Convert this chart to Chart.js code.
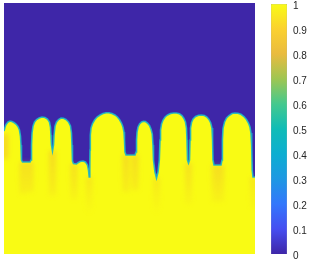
<!DOCTYPE html>
<html>
<head>
<meta charset="utf-8">
<script src="https://cdn.jsdelivr.net/npm/chart.js@4"></script>
<style>
  body { margin: 0; background: #fff; }
  #field { position: absolute; left: 0; top: 0; }
  #cbar { position: absolute; left: 260px; top: 0; }
</style>
</head>
<body>
<canvas id="field" width="260" height="263"></canvas>
<canvas id="cbar" width="60" height="263"></canvas>
<script>
// solid/liquid interface (grid units, 0..251 both ways)
const profileX = [0, 1, 2, 4, 6, 8, 10, 12, 14, 15.5, 16.5, 17, 17.5, 18.5, 26, 27, 27.5, 28,
  29, 30.5, 32.5, 35, 38, 41, 43.5, 45.5, 46.5, 47, 47.5, 48.5, 49.5, 50,
  51, 52.5, 54.5, 57, 59.5, 62, 64.5, 66.5, 67.5, 68, 68.5, 69.5, 72.5,
  73.5, 76, 79, 81.5, 83.5, 84.5, 85.2, 85.8,
  86, 86.3, 87, 88.5, 90.5, 93, 96, 99, 102, 105, 108, 111, 113.5, 115.5, 117.5, 119, 120, 120.5, 121, 122, 131, 132, 132.5,
  133, 134, 135.5, 137.5, 139.5, 141.5, 143.5, 145.5, 147, 148.3, 149, 149.5, 151, 152.5, 154, 155.3, 156,
  156.5, 157.5, 159, 161, 163.5, 166.5, 169.5, 172.5, 175.5, 178, 180, 181.5, 182.5, 183, 183.5, 184.5, 185.5, 186,
  186.5, 187.5, 189, 191.5, 194.5, 197.5, 200.5, 203, 205, 206.8, 208, 208.6, 209, 210, 217, 218, 218.4,
  219, 220.5, 222.5, 225, 228, 231, 234, 237, 240, 242.5, 244.5, 246, 247, 247.7, 248.2, 249, 251];
const profileY = [123, 127, 129.5, 132, 133, 132.5, 131.5, 130, 127.5, 124, 118, 109, 94, 92, 92, 94, 109, 121,
  128, 132, 134.5, 136, 137, 136.5, 135, 132, 127, 119, 109, 103, 109, 119,
  128, 132, 134.5, 136, 135.7, 134.5, 132, 128, 121, 109, 93, 90.5, 90,
  91, 92.5, 93, 92, 89, 84, 77, 84,
  104, 119, 126, 130.5, 134, 137, 139, 140.5, 141.3, 141.3, 140.5, 139, 137, 134.5, 131, 127, 122, 114, 102, 99, 99, 102, 114,
  122, 127, 130, 132, 132.7, 132.5, 131, 128.5, 125, 120, 109, 94, 82, 76, 82, 94, 114,
  124, 130, 134, 137, 139, 140.5, 141, 141, 140.2, 138.5, 135.5, 132, 126, 114, 94, 91, 94, 114,
  126, 131.5, 135, 137.5, 138.8, 139, 138.5, 137, 134.5, 131, 126, 114, 94, 89, 89, 94, 114,
  126, 132, 136, 138.5, 140.5, 141, 140.8, 139.7, 137.5, 134.5, 131, 127, 121, 109, 84, 77, 77];

// orange shading below the grooves
const streakX = [1, 19, 26, 48.5, 70, 85.2, 122, 131, 152.5, 184.5, 211, 217, 249.5];
const streakTop = [120, 92, 92, 103, 90, 77, 99, 99, 76, 91, 89, 89, 77];
const streakBottom = [95, 60, 62, 58, 55, 40, 62, 64, 40, 50, 52, 52, 45];

// colorbar
const cbTicks = [0, 0.1, 0.2, 0.3, 0.4, 0.5, 0.6, 0.7, 0.8, 0.9, 1];
const cbLabels = ['0', '0.1', '0.2', '0.3', '0.4', '0.5', '0.6', '0.7', '0.8', '0.9', '1'];

const parula = [
  [0.0, 62, 38, 168], [0.1, 70, 78, 241], [0.2, 51, 119, 252], [0.3, 30, 152, 227],
  [0.4, 12, 174, 209], [0.5, 15, 188, 183], [0.6, 68, 201, 142], [0.7, 158, 198, 82],
  [0.8, 233, 187, 63], [0.9, 251, 209, 47], [1.0, 249, 251, 21]
];
const BLUE = 'rgb(62,38,168)';
const YELLOW = 'rgb(249,251,20)';

const profile = profileX.map((x, i) => ({ x: x, y: profileY[i] }));
const streaks = [];
streakX.forEach((x, i) => {
  streaks.push({ x: x, y: streakTop[i] });
  streaks.push({ x: x, y: streakBottom[i] });
  streaks.push({ x: x, y: null });
});

function streakColor(context) {
  const chart = context.chart;
  if (!chart.chartArea) return 'rgba(0,0,0,0)';
  const y = chart.scales.y;
  const g = chart.ctx.createLinearGradient(0, y.getPixelForValue(105), 0, y.getPixelForValue(40));
  g.addColorStop(0, 'rgba(240,165,55,0.45)');
  g.addColorStop(0.5, 'rgba(240,170,55,0.25)');
  g.addColorStop(1, 'rgba(240,175,55,0)');
  return g;
}

// soften the diffuse interface and the shading
const blurPlugin = {
  id: 'blurPlugin',
  beforeDatasetDraw(chart, args) {
    const blur = args.meta._dataset.blur;
    if (blur) {
      chart.ctx.save();
      chart.ctx.filter = `blur(${blur}px)`;
    }
  },
  afterDatasetDraw(chart, args) {
    if (args.meta._dataset.blur) chart.ctx.restore();
  }
};

new Chart(document.getElementById('field'), {
  type: 'line',
  data: {
    datasets: [
      { label: 'interface', data: profile, order: 1, fill: false, blur: 0.6,
        borderColor: 'rgba(25,180,200,0.9)', borderWidth: 1.6, pointRadius: 0 },
      { label: 'streaks', data: streaks, order: 2, fill: false, spanGaps: false, blur: 2.5,
        borderColor: streakColor, borderWidth: 6, borderCapStyle: 'butt', pointRadius: 0 },
      { label: 'solid', data: profile, order: 3, fill: 'start',
        backgroundColor: YELLOW, borderWidth: 0, pointRadius: 0 },
      { label: 'liquid', data: profile, order: 4, fill: 'end',
        backgroundColor: BLUE, borderWidth: 0, pointRadius: 0 }
    ]
  },
  options: {
    responsive: false,
    devicePixelRatio: 1,
    animation: false,
    layout: { padding: { left: 4, right: 5, top: 3, bottom: 9 } },
    plugins: { legend: { display: false }, tooltip: { enabled: false } },
    scales: {
      x: { type: 'linear', min: 0, max: 251, display: false },
      y: { type: 'linear', min: 0, max: 251, display: false }
    }
  },
  plugins: [blurPlugin]
});

function parulaGradient(context) {
  const chart = context.chart;
  const area = chart.chartArea;
  if (!area) return BLUE;
  const g = chart.ctx.createLinearGradient(0, area.bottom, 0, area.top);
  parula.forEach(s => g.addColorStop(s[0], `rgb(${s[1]},${s[2]},${s[3]})`));
  return g;
}

new Chart(document.getElementById('cbar'), {
  type: 'bar',
  data: {
    labels: [''],
    datasets: [{ data: [1], backgroundColor: parulaGradient,
      borderColor: 'rgba(60,60,60,0.5)', borderWidth: 0.5,
      barPercentage: 1, categoryPercentage: 1 }]
  },
  options: {
    responsive: false,
    devicePixelRatio: 1,
    animation: false,
    layout: { padding: { left: 11, right: 0, top: 4, bottom: 9 } },
    plugins: { legend: { display: false }, tooltip: { enabled: false } },
    scales: {
      x: { display: false },
      y: {
        position: 'right', min: 0, max: 1,
        afterFit: s => { s.width = 33; s.paddingTop = 0; s.paddingBottom = 0; },
        afterBuildTicks: s => { s.ticks = cbTicks.map(v => ({ value: v })); },
        grid: { display: false, drawTicks: false },
        border: { display: false },
        ticks: {
          padding: 6,
          labelOffset: 2,
          color: '#262626',
          font: { family: 'Liberation Sans', size: 10 },
          callback: (v, i) => cbLabels[i]
        }
      }
    }
  }
});
</script>
</body>
</html>
